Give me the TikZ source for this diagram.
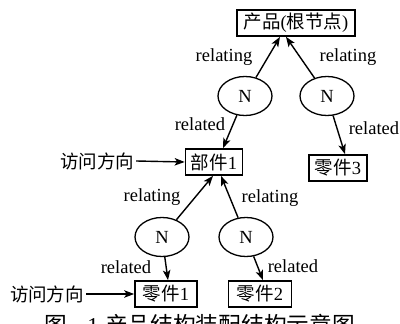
\documentclass[tikz,border=0pt]{standalone}
\usepackage{fontspec}
\setmainfont{Liberation Serif}
\newfontfamily\cjk{Noto Sans CJK SC}
\usetikzlibrary{arrows.meta,shapes.geometric}
\newcommand{\zh}[1]{{\cjk #1}}
\begin{document}
\begin{tikzpicture}[x=1pt,y=-1pt,
  every node/.style={font=\fontsize{18.5}{20}\selectfont},
  box/.style={draw,line width=1.7pt,minimum height=26pt,inner sep=0pt},
  nell/.style={draw,ellipse,line width=1.3pt,minimum width=54pt,minimum height=39pt,inner sep=0pt},
  arr/.style={line width=1.4pt,-{Stealth[length=10pt,width=7.5pt,inset=2.5pt]}},
  lbl/.style={inner sep=0pt,anchor=base}]
\useasboundingbox (0,0) rectangle (400,324);
\clip (0,0) rectangle (400,324);
% boxes
\node[box,minimum width=118pt] (root) at (296,23) {\zh{产品}(\zh{根节点})};
\node[box,minimum width=57pt] (bj1) at (214,162) {\zh{部件}1};
\node[box,minimum width=58pt] (lj3) at (338,168) {\zh{零件}3};
\node[box,minimum width=62pt] (lj1) at (166,294) {\zh{零件}1};
\node[box,minimum width=63pt] (lj2) at (260,294) {\zh{零件}2};
% ellipses
\node[nell] (nL) at (245,96) {N};
\node[nell] (nR) at (327,96) {N};
\node[nell] (nLL) at (162,237) {N};
\node[nell] (nLR) at (246,237) {N};
% access direction
\node[inner sep=2pt] (fx1) at (97,161) {\zh{访问方向}};
\node[inner sep=2pt] (fx2) at (47,294) {\zh{访问方向}};
\draw[arr] (fx1.east) -- (bj1.west);
\draw[arr] (fx2.east) -- (lj1.west);
% connectors
\draw[arr] (nL) -- ([xshift=-16pt]root.south);
\draw[arr] (nR) -- ([xshift=-10pt]root.south);
\draw[arr] (nL) -- ([xshift=9pt]bj1.north);
\draw[arr] (nR) -- ([xshift=7pt]lj3.north);
\draw[arr] (nLL) -- ([xshift=-1pt]bj1.south);
\draw[arr] (nLR) -- ([xshift=7pt]bj1.south);
\draw[arr] (nLL) -- ([xshift=2pt]lj1.north);
\draw[arr] (nLR) -- ([xshift=3pt]lj2.north);
% labels
\node[lbl] (l1) at (224,61) {relating};
\node[lbl] (l2) at (348,61) {relating};
\node[lbl] (l3) at (200,131) {related};
\node[lbl] (l4) at (374,134) {related};
\node[lbl] (l5) at (152,201) {relating};
\node[lbl] (l6) at (270,202) {relating};
\node[lbl] (l7) at (126,273) {related};
\node[lbl] (l8) at (293,272) {related};
% caption (cut off at bottom, as in the reference)
\node[lbl,font=\fontsize{22.7}{24}\selectfont] (capA) at (56,333) {\zh{图}};
\node[lbl,font=\fontsize{22.7}{24}\selectfont] (capB) at (93,333) {1};
\node[lbl,font=\fontsize{22.7}{24}\selectfont] (capC) at (230,333) {\zh{产品结构装配结构示意图}};
\end{tikzpicture}
\end{document}
